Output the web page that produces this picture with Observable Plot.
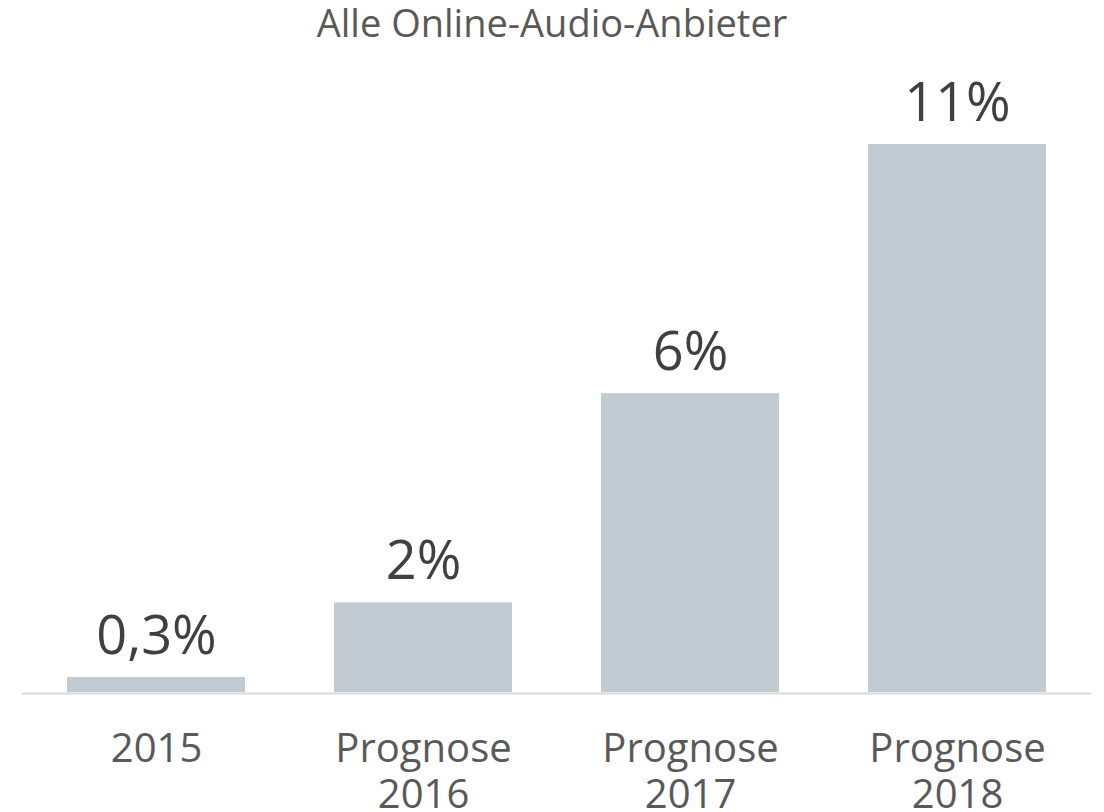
<!DOCTYPE html>
<html>
<head>
<meta charset="utf-8">
<script src="https://cdn.jsdelivr.net/npm/d3@7"></script>
<script src="https://cdn.jsdelivr.net/npm/@observablehq/plot@0.6"></script>
<style>
  html, body { margin: 0; padding: 0; background: #fff; }
  #title { height: 60px; line-height: 45px; font-family: "Open Sans", sans-serif; font-size: 38px; color: #595959; text-align: center; width: 1104px; }
  svg { display: block; }
</style>
</head>
<body>
<div id="title">Alle Online-Audio-Anbieter</div>
<div id="chart"></div>
<script>
const categories = ["2015", "Prognose\n2016", "Prognose\n2017", "Prognose\n2018"];
const values = [0.3, 1.8, 6, 11];
const valueLabels = ["0,3%", "2%", "6%", "11%"];

const data = categories.map((c, i) => ({ category: c, value: values[i], label: valueLabels[i] }));

const chart = Plot.plot({
  width: 1104,
  height: 752,
  marginLeft: 22,
  marginRight: 13,
  marginTop: 84,
  marginBottom: 120,
  style: { fontFamily: "'Open Sans', sans-serif", background: "#fff" },
  x: { domain: categories, paddingInner: 1 / 3, paddingOuter: 0.1685, label: null },
  y: { domain: [0, 11], axis: null },
  marks: [
    Plot.barY(data, { x: "category", y: "value", fill: "#c3cbd2" }),
    Plot.ruleY([0], { stroke: "#d9d9d9", strokeWidth: 2, dy: 1 }),
    Plot.text(data, { x: "category", y: "value", text: "label", dy: -24, lineAnchor: "bottom", fontSize: 54, fill: "#404040" }),
    Plot.axisX({ tickSize: 0, tickPadding: 37, fontSize: 40, lineHeight: 1.15, color: "#595959", label: null })
  ]
});
document.getElementById("chart").appendChild(chart);
</script>
</body>
</html>
